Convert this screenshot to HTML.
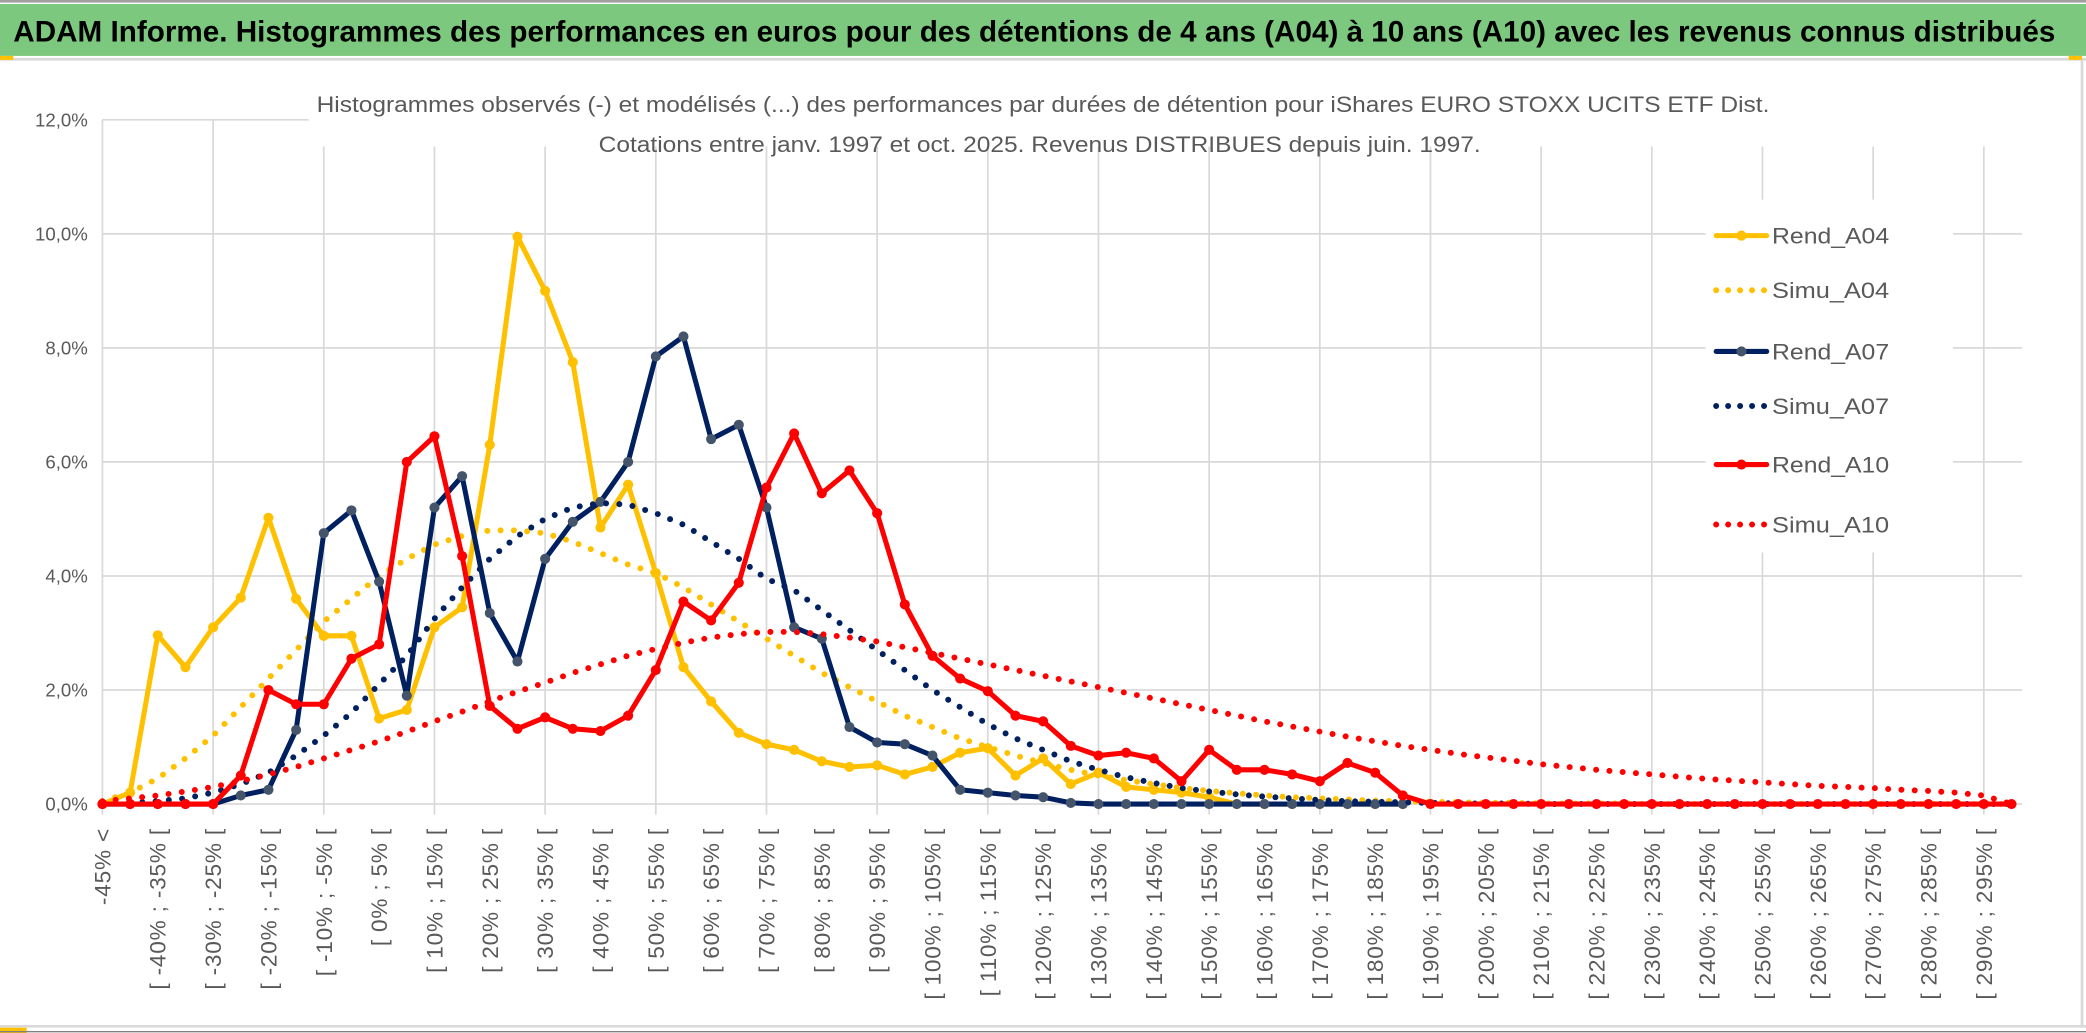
<!DOCTYPE html>
<html><head><meta charset="utf-8">
<style>
html,body{margin:0;padding:0;background:#fff;overflow:hidden}
svg{display:block}
text{font-family:"Liberation Sans",sans-serif}
</style></head>
<body>
<svg id="chart" width="2086" height="1033" viewBox="0 0 1568 776" preserveAspectRatio="none" xmlns="http://www.w3.org/2000/svg">
  <rect x="0" y="0" width="1568" height="776" fill="#fff"/>
  <line x1="0" y1="1" x2="1568" y2="1" stroke="#a0a0a0" stroke-width="2"/>
  <rect x="0" y="3" width="1568" height="39" fill="#7dc87f"/>
  <text x="10" y="31" font-size="22" font-weight="bold" fill="#000" textLength="1535" lengthAdjust="spacingAndGlyphs">ADAM Informe. Histogrammes des performances en euros pour des détentions de 4 ans (A04) à 10 ans (A10) avec les revenus connus distribués</text>
  <line x1="0" y1="44.5" x2="1568" y2="44.5" stroke="#d9d9d9" stroke-width="2"/>
  <rect x="0" y="42" width="10" height="3" fill="#ffc000"/>
  <rect x="1555" y="42" width="10" height="3" fill="#ffc000"/>
  <line x1="1565" y1="45" x2="1565" y2="772" stroke="#d9d9d9" stroke-width="2"/>
  <line x1="0" y1="771" x2="1568" y2="771" stroke="#d9d9d9" stroke-width="2"/>
  <rect x="0" y="772" width="20" height="4" fill="#ffc000"/>
  <line x1="0" y1="775" x2="1568" y2="775" stroke="#808080" stroke-width="1"/>
  <g id="grid"></g>
  <g id="series"></g>
  <rect x="232" y="60" width="1330" height="50" fill="#fff"/>
  <text x="238" y="84" font-size="17" fill="#595959" textLength="1092" lengthAdjust="spacingAndGlyphs">Histogrammes observés (-) et modélisés (...) des performances par durées de détention pour iShares EURO STOXX UCITS ETF Dist.</text>
  <text x="450" y="114" font-size="17" fill="#595959" textLength="663" lengthAdjust="spacingAndGlyphs">Cotations entre janv. 1997 et oct. 2025. Revenus DISTRIBUES depuis juin. 1997.</text>
  <g id="yaxis"></g>
  <g id="xaxis"></g>
  <rect x="1282" y="150" width="186" height="265" fill="#fff"/>
  <g id="legend"></g>
</svg>
<script>
const yTicks = [0, 2, 4, 6, 8, 10, 12];
const yTickLabels = ["0,0%", "2,0%", "4,0%", "6,0%", "8,0%", "10,0%", "12,0%"];
const seriesNames = ["Rend_A04", "Simu_A04", "Rend_A07", "Simu_A07", "Rend_A10", "Simu_A10"];
const rendA04 = [0,0.2,2.96,2.4,3.1,3.62,5.02,3.6,2.95,2.95,1.5,1.65,3.1,3.45,6.3,9.95,9.0,7.75,4.85,5.6,4.05,2.4,1.8,1.25,1.05,0.95,0.75,0.65,0.68,0.52,0.65,0.9,0.98,0.5,0.8,0.35,0.55,0.3,0.25,0.2,0.12,0,0,0,0,0,0,0];
const simuA04 = [0.05,0.2,0.45,0.8,1.2,1.7,2.2,2.7,3.2,3.6,4.0,4.3,4.55,4.7,4.8,4.8,4.75,4.6,4.4,4.2,4.05,3.8,3.5,3.2,2.9,2.6,2.3,2.05,1.8,1.55,1.35,1.15,1.0,0.85,0.72,0.6,0.5,0.42,0.35,0.28,0.23,0.19,0.15,0.12,0.1,0.08,0.06,0.05,0.04,0.03,0.02,0.02,0.01,0.01,0.01,0.01,0,0,0,0,0,0,0,0,0,0,0,0,0,0];
const rendA07 = [0,0,0,0,0,0.15,0.25,1.3,4.75,5.15,3.9,1.9,5.2,5.75,3.35,2.5,4.3,4.95,5.3,6.0,7.85,8.2,6.4,6.65,5.2,3.1,2.9,1.35,1.08,1.05,0.85,0.25,0.2,0.15,0.12,0.02,0,0,0,0,0,0,0,0,0,0,0,0];
const simuA07 = [0,0.02,0.05,0.1,0.2,0.35,0.55,0.85,1.2,1.6,2.1,2.6,3.25,3.8,4.3,4.7,5.0,5.2,5.28,5.25,5.1,4.9,4.6,4.3,3.95,3.75,3.4,3.05,2.7,2.35,2.0,1.7,1.4,1.15,0.95,0.75,0.6,0.47,0.37,0.28,0.22,0.17,0.13,0.1,0.07,0.05,0.04,0.03,0.02,0.01,0.01,0.01,0,0,0,0,0,0,0,0,0,0,0,0,0,0,0,0,0,0];
const rendA10 = [0,0,0,0,0,0.5,2.0,1.75,1.75,2.55,2.8,6.0,6.45,4.35,1.72,1.32,1.52,1.32,1.28,1.55,2.35,3.55,3.22,3.88,5.55,6.5,5.45,5.85,5.1,3.5,2.6,2.2,1.98,1.55,1.45,1.02,0.85,0.9,0.8,0.4,0.95,0.6,0.6,0.52,0.4,0.72,0.55,0.15,0,0,0,0,0,0,0,0,0,0,0,0,0,0,0,0,0,0,0,0,0,0];
const simuA10 = [0.05,0.1,0.15,0.22,0.3,0.4,0.52,0.65,0.8,0.95,1.1,1.27,1.45,1.62,1.8,1.97,2.13,2.3,2.45,2.6,2.72,2.83,2.92,2.98,3.02,3.02,2.98,2.92,2.85,2.75,2.65,2.55,2.45,2.35,2.25,2.15,2.05,1.95,1.85,1.75,1.65,1.55,1.45,1.36,1.27,1.18,1.1,1.02,0.95,0.88,0.82,0.76,0.7,0.65,0.6,0.56,0.52,0.48,0.44,0.41,0.38,0.35,0.32,0.3,0.28,0.25,0.23,0.2,0.15,0];

const categories = ["-45% <"];
for (let a = -45; a < 300; a += 5) categories.push("[ " + a + "% ; " + (a + 5) + "% [");

const NS = "http://www.w3.org/2000/svg";
const X0 = 77, X1 = 1512, Y0 = 604, Y1 = 90;
const xPos = i => X0 + (X1 - X0) * i / (categories.length - 1);
const yPos = v => Y0 - (Y0 - Y1) * v / 12;
function mk(tag, attrs, parent) {
  const e = document.createElementNS(NS, tag);
  for (const k in attrs) e.setAttribute(k, attrs[k]);
  parent.appendChild(e);
  return e;
}
const grid = document.getElementById("grid");
yTicks.forEach(t => {
  const l = mk("line", {x1: X0, x2: 1520, y1: yPos(t), y2: yPos(t), stroke: "#d9d9d9", "stroke-width": 1.3}, grid);
  
  
});
for (let i = 0; i < categories.length; i += 4) {
  const l = mk("line", {x1: xPos(i), x2: xPos(i), y1: Y1, y2: Y0 + 8, stroke: "#d9d9d9", "stroke-width": 1.3}, grid);
  
  
}
const yaxis = document.getElementById("yaxis");
yTicks.forEach((t, k) => {
  const tx = mk("text", {x: 66, y: yPos(t) + 5, "font-size": 14, fill: "#595959", "text-anchor": "end"}, yaxis);
  tx.textContent = yTickLabels[k];
  
  
});
const xaxis = document.getElementById("xaxis");
for (let i = 0; i < categories.length; i += 2) {
  const x = xPos(i) + 6, y = 622;
  const tx = mk("text", {x: x, y: y, "font-size": 17, fill: "#595959", "text-anchor": "end", "letter-spacing": 0.6, transform: "rotate(-90 " + x + " " + y + ")"}, xaxis);
  tx.textContent = categories[i];
  
  
}
const styles = [
  {data: rendA04, color: "#ffc000", marker: "#ffc000", dotted: false},
  {data: simuA04, color: "#ffc000", dotted: true},
  {data: rendA07, color: "#002060", marker: "#44546a", dotted: false},
  {data: simuA07, color: "#002060", dotted: true},
  {data: rendA10, color: "#ff0000", marker: "#ff0000", dotted: false},
  {data: simuA10, color: "#ff0000", dotted: true}
];
const sg = document.getElementById("series");
styles.forEach((s, k) => {
  const g = mk("g", {}, sg);
  
  
  const pts = s.data.map((v, i) => xPos(i).toFixed(2) + "," + yPos(v).toFixed(2)).join(" ");
  const pl = mk("polyline", {points: pts, fill: "none", stroke: s.color, "stroke-width": s.dotted ? 4.5 : 3.8, "stroke-linejoin": "round", "stroke-linecap": "round"}, g);
  if (s.dotted) pl.setAttribute("stroke-dasharray", "0 10");
  
  
  if (!s.dotted) {
    s.data.forEach((v, i) => {
      const c = mk("circle", {cx: xPos(i), cy: yPos(v), r: 3.8, fill: s.marker}, g);
      
      
    });
  }
});
const legendY = [177, 218, 264, 305, 349, 394];
const lg = document.getElementById("legend");
styles.forEach((s, k) => {
  const g = mk("g", {}, lg);
  
  
  const y = legendY[k];
  const l = mk("line", {x1: 1290, x2: 1328, y1: y, y2: y, stroke: s.color, "stroke-width": s.dotted ? 4.5 : 3.8, "stroke-linecap": "round"}, g);
  if (s.dotted) l.setAttribute("stroke-dasharray", "0 9");
  if (!s.dotted) mk("circle", {cx: 1309, cy: y, r: 3.8, fill: s.marker}, g);
  const t = mk("text", {x: 1332, y: y + 6, "font-size": 17, fill: "#595959", textLength: 88, lengthAdjust: "spacingAndGlyphs"}, g);
  t.textContent = seriesNames[k];
});
</script>
</body></html>
